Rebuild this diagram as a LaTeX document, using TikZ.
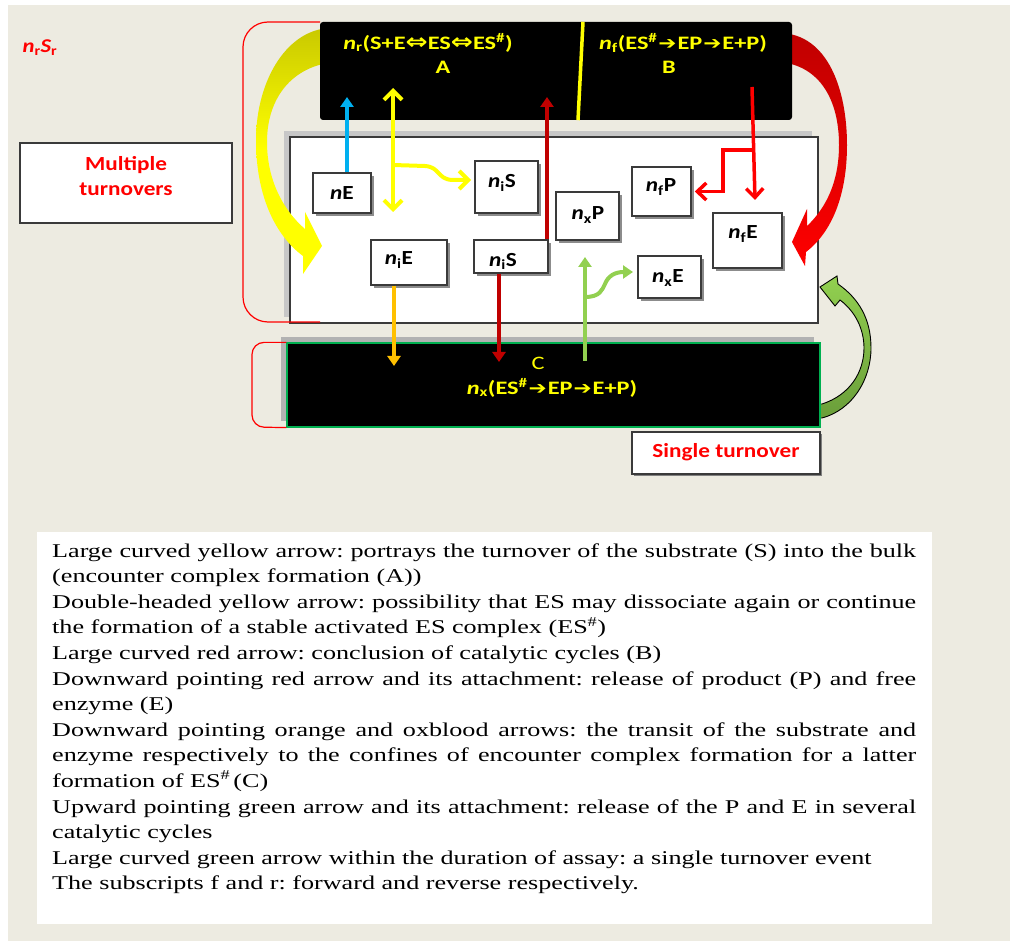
\documentclass[tikz,border=0pt]{standalone}
\usepackage{fontspec}
\usetikzlibrary{arrows.meta,shadows}
\newfontfamily\dfont{Carlito}[FakeStretch=1.16]
\newfontfamily\yfont{Carlito}[FakeStretch=1.28]
\newfontfamily\symf{DejaVu Sans}[FakeStretch=1.2]
\newfontfamily\lfont{Liberation Serif}[FakeStretch=1.34]
\newcommand{\nn}[1]{\textit{n}\textsubscript{#1}}
\newcommand{\dar}{{\symf\bfseries\fontsize{22}{22}\selectfont ⇔}}
\newcommand{\rar}{\kern1pt{\symf\fontsize{18}{22}\selectfont ➔}\kern1pt}
\definecolor{bgc}{HTML}{EDEBE1}
\definecolor{oxb}{HTML}{C00000}
\definecolor{skyb}{HTML}{00B0F0}
\definecolor{orng}{HTML}{FFC000}
\definecolor{lgreen}{HTML}{92D050}
\definecolor{dgreen}{HTML}{6A9E3A}
\definecolor{yolive}{HTML}{C8C800}
\definecolor{ylw}{HTML}{FFFF00}
\definecolor{bgreen}{HTML}{00B050}
\definecolor{brdr}{HTML}{3A3A3A}
\tikzset{
  dtext/.style={font=\dfont\bfseries\fontsize{20}{25}\selectfont, inner sep=0pt},
  ytext/.style={inner sep=0pt, text=ylw, font=\yfont\bfseries\fontsize{19}{22}\selectfont},
  smallbox/.style={draw=brdr, line width=1.5pt, fill=white, inner sep=0pt,
    drop shadow={shadow xshift=3pt, shadow yshift=-3pt, fill=black!45, opacity=1}},
  framebox/.style={draw=brdr, line width=1.2pt, fill=white, inner sep=0pt},
  conn/.style={line width=4pt},
  filltip/.style={-{Triangle[length=10pt,width=13pt]}},
  barbtip/.style={-{Straight Barb[length=9pt,width=18pt]}},
}
\begin{document}
\begin{tikzpicture}[x=1pt,y=-1pt]
\useasboundingbox (0,0) rectangle (1010,941);
\fill[white] (0,0) rectangle (1010,941);
\fill[bgc] (8,5) rectangle (1010,941);

% main white box
\node[framebox, minimum width=528pt, minimum height=186pt,
  drop shadow={shadow xshift=-6pt, shadow yshift=6pt, fill=black!22, opacity=1}] (main) at (554,230) {};

% red bracket (multiple turnovers)
\draw[red, line width=1.2pt, rounded corners=25pt] (320,22) -| (243,322) -- (320,322);

% large curved yellow arrow
\shade[top color=yolive, bottom color=ylw, middle color=ylw]
  (335,28) .. controls (288,26) and (256,80) .. (256,140)
  .. controls (256,197) and (276,236) .. (303,256) -- (303,274) -- (322,246) -- (305,212) -- (305,229)
  .. controls (283,210) and (267,180) .. (267,142)
  .. controls (267,98) and (292,66) .. (335,62) -- cycle;

% large curved red arrow
\shade[top color=oxb, bottom color=red]
  (780,33) .. controls (828,34) and (847,90) .. (847,145)
  .. controls (847,195) and (832,232) .. (806,252) -- (805,266) -- (792,242) -- (807,209) -- (807,226)
  .. controls (826,208) and (839,182) .. (839,145)
  .. controls (839,100) and (820,66) .. (780,62) -- cycle;

% black box A / B
\node[fill=black, rounded corners=3pt, minimum width=472pt, minimum height=98pt, inner sep=0pt] (AB) at (556,71) {};
\draw[ylw, line width=3.5pt] (AB.north -| 583,0) -- (AB.south -| 578,0);
\node[ytext] (tA) at (428,43) {\nn{r}(S+E\dar ES\dar ES\textsuperscript{\#})};
\node[ytext] (lA) at (443,67) {A};
\node[ytext] (tB) at (683,43) {\nn{f}(ES\textsuperscript{\#}\rar EP\rar E+P)};
\node[ytext] (lB) at (669,67) {B};

% green curved arrow (single turnover)
\shadedraw[top color=lgreen, bottom color=dgreen, draw=black, line width=0.9pt]
  (815,418) -- (822,418) .. controls (852,410) and (871,380) .. (871,348)
  .. controls (871,318) and (858,298) .. (838,284) -- (837,276) -- (820,287) -- (835,306) -- (840,300)
  .. controls (856,312) and (864,330) .. (864,348)
  .. controls (864,372) and (850,395) .. (822,404) -- (815,404) -- cycle;

% box C
\node[fill=black, draw=bgreen, line width=1.2pt, minimum width=533pt, minimum height=84pt, inner sep=0pt,
  drop shadow={shadow xshift=-6pt, shadow yshift=6pt, fill=black!30, opacity=1}] (C) at (553.5,385) {};
\draw[red, line width=1.2pt, rounded corners=12pt] (C.north west) -| (252,427) -- (C.south west);
\node[ytext, font=\yfont\fontsize{19}{22}\selectfont] (lC) at (538,363) {C};
\node[ytext] (tC) at (552,388) {\nn{x}(ES\textsuperscript{\#}\rar EP\rar E+P)};

% side labels
\node[dtext, text=red, font=\dfont\bfseries\itshape\fontsize{19.5}{22}\selectfont] (nrSr) at (40,48)
  {\textit{n}\textsubscript{\upshape r}\textit{S}\textsubscript{\upshape r}};
\node[framebox, minimum width=212pt, minimum height=80pt] (multi) at (126,183) {};
\node[dtext, text=red, align=center] (multiT) at (126,176) {Multiple\\turnovers};
\node[framebox, minimum width=188pt, minimum height=42pt,
  drop shadow={shadow xshift=2pt, shadow yshift=-2pt, fill=black!50, opacity=1}] (single) at (726,453) {};
\node[dtext, text=red] (singleT) at (726,452) {Single turnover};

% small boxes
\node[smallbox, minimum width=58pt, minimum height=40pt] (bnE) at (342,193) {};
\node[smallbox, minimum width=63pt, minimum height=52pt] (bniSa) at (506.5,187) {};
\node[smallbox, minimum width=76pt, minimum height=45pt] (bniE) at (409,262.5) {};
\node[smallbox, minimum width=74pt, minimum height=33pt] (bniSb) at (511,256.5) {};
\node[smallbox, minimum width=63pt, minimum height=48pt] (bnxP) at (587.5,216) {};
\node[smallbox, minimum width=59pt, minimum height=49pt] (bnfP) at (661.5,191.5) {};
\node[smallbox, minimum width=63pt, minimum height=42pt] (bnxE) at (669.5,277) {};
\node[smallbox, minimum width=69pt, minimum height=55pt] (bnfE) at (747.5,240.5) {};
\node[dtext] (lnE) at (342,193) {\textit{n}E};
\node[dtext] (lniSa) at (502,183) {\nn{i}S};
\node[dtext] (lniE) at (399,260) {\nn{i}E};
\node[dtext] (lniSb) at (503,261) {\nn{i}S};
\node[dtext] (lnxP) at (588,215) {\nn{x}P};
\node[dtext] (lnfP) at (661,187) {\nn{f}P};
\node[dtext] (lnxE) at (668,278) {\nn{x}E};
\node[dtext] (lnfE) at (743,234) {\nn{f}E};

% connectors
\coordinate (blueEnd) at (347,97);
\draw[skyb, conn, filltip] (bnE.north -| blueEnd) -- (blueEnd);
\coordinate (yTop) at (393,88);
\coordinate (yBot) at (393,212);
\draw[ylw, conn, {Straight Barb[length=9pt,width=18pt]}-{Straight Barb[length=9pt,width=18pt]}] (yTop) -- (yBot);
\coordinate (yBr) at (393,165);
\coordinate (yBrEnd) at (471,180);
\draw[ylw, conn, barbtip] (yBr) -- (425,166) .. controls (440,167) and (437,179) .. (452,180) -- (yBrEnd);
\coordinate (oxUp) at (547,97);
\draw[oxb, conn, filltip] (bniSb.north -| oxUp) -- (oxUp);
\coordinate (oxDn) at (499,362);
\draw[oxb, conn, filltip] (bniSb.south -| oxDn) -- (oxDn);
\coordinate (orDn) at (394,366);
\draw[orng, conn, filltip] (bniE.south -| orDn) -- (orDn);
\coordinate (gBot) at (585,361);
\coordinate (gTop) at (585,257);
\draw[lgreen, conn, filltip] (gBot) -- (gTop);
\coordinate (gBr) at (585,297);
\coordinate (gBrEnd) at (633,272);
\draw[lgreen, conn, -{Triangle[length=10pt,width=13pt]}] (gBr) .. controls (600,297) and (602,290) .. (605,284) .. controls (608,276) and (615,272) .. (gBrEnd);
\coordinate (rTop) at (752,87);
\coordinate (rTip) at (755,200);
\draw[red, line width=3.5pt, -{Straight Barb[length=9pt,width=17pt]}] (rTop) -- (rTip);
\coordinate (rJ) at (753.5,150);
\draw[red, line width=3.5pt, -{Straight Barb[length=9pt,width=17pt]}] (rJ) -- (723,150) |- ([xshift=3pt]bnfP.east);

% legend
\node[fill=white, minimum width=895pt, minimum height=392pt, inner sep=0pt] (legendbox) at (484.5,728) {};
\node[anchor=base west, inner sep=0pt, font=\lfont\fontsize{19.5}{25.6}\selectfont] (legend) at (52,557)
{\parbox[t]{864pt}{\parindent=0pt\tolerance=10000\hyphenpenalty=10000\emergencystretch=20pt\frenchspacing
Large curved yellow arrow: portrays the turnover of the substrate (S) into the bulk \linebreak (encounter complex formation (A))\par
Double-headed yellow arrow: possibility that ES may dissociate again or continue \linebreak the formation of a stable activated ES complex (ES\textsuperscript{\#})\par
Large curved red arrow: conclusion of catalytic cycles (B)\par
Downward pointing red arrow and its attachment: release of product (P) and free \linebreak enzyme (E)\par
Downward pointing orange and oxblood arrows: the transit of the substrate and \linebreak enzyme respectively to the confines of encounter complex formation for a latter \linebreak formation of ES\textsuperscript{\#}\,(C)\par
Upward pointing green arrow and its attachment: release of the P and E in several \linebreak catalytic cycles\par
Large curved green arrow within the duration of assay: a single turnover event\par
The subscripts f and r: forward and reverse respectively.}};
\end{tikzpicture}
\end{document}
